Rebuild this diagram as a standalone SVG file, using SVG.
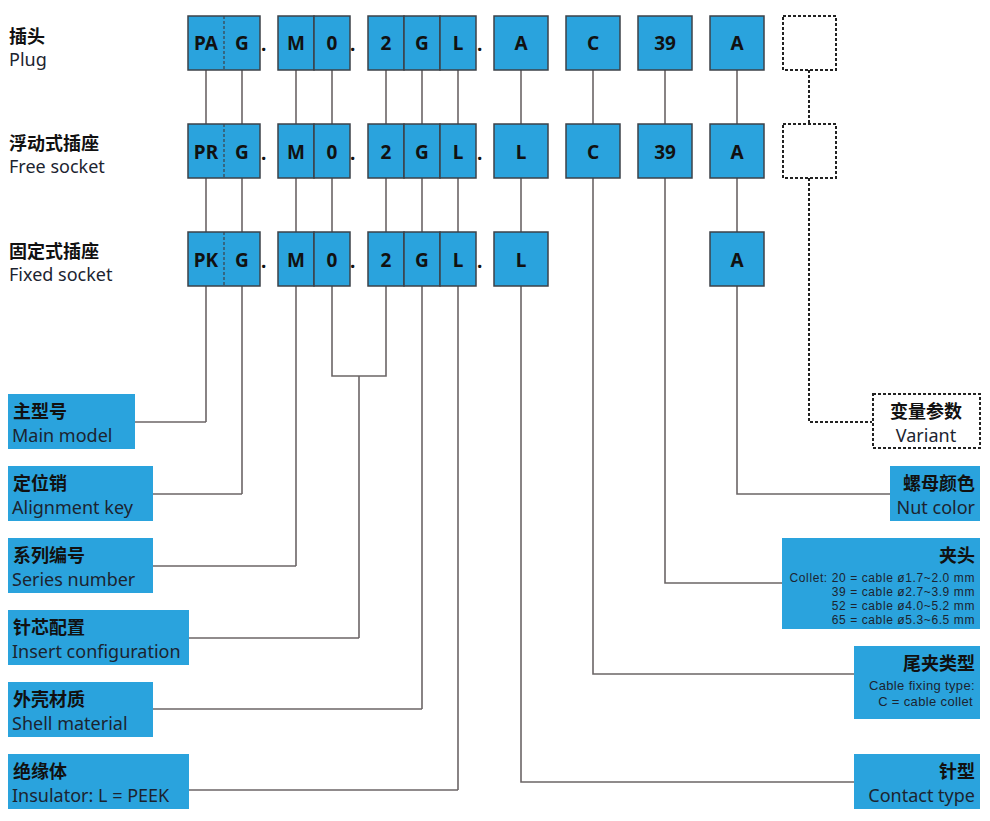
<svg xmlns="http://www.w3.org/2000/svg" width="990" height="821" viewBox="0 0 990 821">
<style>
.cell{fill:#2aa3dd;stroke:#3d4248;stroke-width:1.5}
.lab{fill:#2aa3dd}
.dash{fill:#fff;stroke:#222;stroke-width:2;stroke-dasharray:3 2}
.ln{fill:none;stroke:#6b6566;stroke-width:1.6}
.dl{fill:none;stroke:#222;stroke-width:2;stroke-dasharray:3 2}
.ct{font-family:"Noto Sans","Open Sans",sans-serif;font-weight:bold;font-size:19px;fill:#111;text-anchor:middle}
.dot{font-family:"Noto Sans",sans-serif;font-weight:bold;font-size:19px;fill:#111}
.zh{font-family:"Noto Sans CJK SC","Noto Sans",sans-serif;font-weight:bold;font-size:18px;fill:#111}
.en{font-family:"Noto Sans","Open Sans",sans-serif;font-size:18px;fill:#1c2430}
.sm{font-family:"Liberation Sans",Arial,sans-serif;font-size:13px;letter-spacing:0.35px;fill:#1c2430;text-anchor:end}
.xs{font-family:"Liberation Sans",Arial,sans-serif;font-size:12px;letter-spacing:0.6px;fill:#1c2430;text-anchor:end}
.r{text-anchor:end}
.m{text-anchor:middle}
</style>
<g id="connectors">
<line class="ln" x1="206" y1="70" x2="206" y2="422"/>
<line class="ln" x1="135" y1="422" x2="206" y2="422"/>
<line class="ln" x1="242" y1="70" x2="242" y2="494"/>
<line class="ln" x1="153" y1="494" x2="242" y2="494"/>
<line class="ln" x1="296" y1="70" x2="296" y2="566"/>
<line class="ln" x1="153" y1="566" x2="296" y2="566"/>
<polyline class="ln" points="332,70 332,376 386,376 386,70"/>
<line class="ln" x1="359" y1="376" x2="359" y2="638"/>
<line class="ln" x1="189" y1="638" x2="359" y2="638"/>
<line class="ln" x1="422" y1="70" x2="422" y2="709"/>
<line class="ln" x1="153" y1="709" x2="422" y2="709"/>
<line class="ln" x1="458" y1="70" x2="458" y2="790"/>
<line class="ln" x1="189" y1="790" x2="458" y2="790"/>
<polyline class="ln" points="521,70 521,782 854,782"/>
<polyline class="ln" points="593,70 593,674 854,674"/>
<polyline class="ln" points="665,70 665,583 782,583"/>
<polyline class="ln" points="737,70 737,494 890,494"/>
<line class="dl" x1="809" y1="70" x2="809" y2="124"/>
<polyline class="dl" points="809,178 809,422 872,422"/>
</g>
<g id="row-titles">
<text class="zh" x="9" y="43">插头</text>
<text class="en" x="9" y="66">Plug</text>
<text class="zh" x="9" y="150">浮动式插座</text>
<text class="en" x="9" y="173">Free socket</text>
<text class="zh" x="9" y="258">固定式插座</text>
<text class="en" x="9" y="281">Fixed socket</text>
</g>
<g id="row1">
<rect class="cell" x="188" y="16" width="72" height="54"/><line x1="224" y1="16" x2="224" y2="70" stroke="#3d4248" stroke-width="1.2" stroke-dasharray="3 2"/>
<text class="ct" x="206" y="50">PA</text><text class="ct" x="242" y="50">G</text><text class="dot" x="261" y="51">.</text>
<rect class="cell" x="278" y="16" width="36" height="54"/><rect class="cell" x="314" y="16" width="36" height="54"/>
<text class="ct" x="296" y="50">M</text><text class="ct" x="332" y="50">0</text><text class="dot" x="350" y="51">.</text>
<rect class="cell" x="368" y="16" width="36" height="54"/><rect class="cell" x="404" y="16" width="36" height="54"/><rect class="cell" x="440" y="16" width="36" height="54"/>
<text class="ct" x="386" y="50">2</text><text class="ct" x="422" y="50">G</text><text class="ct" x="458" y="50">L</text><text class="dot" x="477" y="51">.</text>
<rect class="cell" x="494" y="16" width="54" height="54"/><text class="ct" x="521" y="50">A</text>
<rect class="cell" x="566" y="16" width="54" height="54"/><text class="ct" x="593" y="50">C</text>
<rect class="cell" x="638" y="16" width="54" height="54"/><text class="ct" x="665" y="50">39</text>
<rect class="cell" x="710" y="16" width="54" height="54"/><text class="ct" x="737" y="50">A</text>
<rect class="dash" x="783" y="16" width="53" height="54"/>
</g>
<g id="row2">
<rect class="cell" x="188" y="124" width="72" height="54"/><line x1="224" y1="124" x2="224" y2="178" stroke="#3d4248" stroke-width="1.2" stroke-dasharray="3 2"/>
<text class="ct" x="206" y="159">PR</text><text class="ct" x="242" y="159">G</text><text class="dot" x="261" y="160">.</text>
<rect class="cell" x="278" y="124" width="36" height="54"/><rect class="cell" x="314" y="124" width="36" height="54"/>
<text class="ct" x="296" y="159">M</text><text class="ct" x="332" y="159">0</text><text class="dot" x="350" y="160">.</text>
<rect class="cell" x="368" y="124" width="36" height="54"/><rect class="cell" x="404" y="124" width="36" height="54"/><rect class="cell" x="440" y="124" width="36" height="54"/>
<text class="ct" x="386" y="159">2</text><text class="ct" x="422" y="159">G</text><text class="ct" x="458" y="159">L</text><text class="dot" x="477" y="160">.</text>
<rect class="cell" x="494" y="124" width="54" height="54"/><text class="ct" x="521" y="159">L</text>
<rect class="cell" x="566" y="124" width="54" height="54"/><text class="ct" x="593" y="159">C</text>
<rect class="cell" x="638" y="124" width="54" height="54"/><text class="ct" x="665" y="159">39</text>
<rect class="cell" x="710" y="124" width="54" height="54"/><text class="ct" x="737" y="159">A</text>
<rect class="dash" x="783" y="124" width="53" height="54"/>
</g>
<g id="row3">
<rect class="cell" x="188" y="232" width="72" height="54"/><line x1="224" y1="232" x2="224" y2="286" stroke="#3d4248" stroke-width="1.2" stroke-dasharray="3 2"/>
<text class="ct" x="206" y="267">PK</text><text class="ct" x="242" y="267">G</text><text class="dot" x="261" y="268">.</text>
<rect class="cell" x="278" y="232" width="36" height="54"/><rect class="cell" x="314" y="232" width="36" height="54"/>
<text class="ct" x="296" y="267">M</text><text class="ct" x="332" y="267">0</text><text class="dot" x="350" y="268">.</text>
<rect class="cell" x="368" y="232" width="36" height="54"/><rect class="cell" x="404" y="232" width="36" height="54"/><rect class="cell" x="440" y="232" width="36" height="54"/>
<text class="ct" x="386" y="267">2</text><text class="ct" x="422" y="267">G</text><text class="ct" x="458" y="267">L</text><text class="dot" x="477" y="268">.</text>
<rect class="cell" x="494" y="232" width="54" height="54"/><text class="ct" x="521" y="267">L</text>
<rect class="cell" x="710" y="232" width="54" height="54"/><text class="ct" x="737" y="267">A</text>
</g>
<g id="main-model"><rect class="lab" x="8" y="394" width="127" height="55"/><text class="zh" x="13" y="418">主型号</text><text class="en" x="12" y="442">Main model</text></g>
<g id="alignment-key"><rect class="lab" x="8" y="466" width="145" height="55"/><text class="zh" x="13" y="490">定位销</text><text class="en" x="12" y="514">Alignment key</text></g>
<g id="series-number"><rect class="lab" x="8" y="538" width="145" height="55"/><text class="zh" x="13" y="562">系列编号</text><text class="en" x="12" y="586">Series number</text></g>
<g id="insert-configuration"><rect class="lab" x="8" y="610" width="181" height="55"/><text class="zh" x="13" y="634">针芯配置</text><text class="en" x="12" y="658">Insert configuration</text></g>
<g id="shell-material"><rect class="lab" x="8" y="682" width="145" height="55"/><text class="zh" x="13" y="706">外壳材质</text><text class="en" x="12" y="730">Shell material</text></g>
<g id="insulator"><rect class="lab" x="8" y="754" width="181" height="55"/><text class="zh" x="13" y="778">绝缘体</text><text class="en" x="12" y="802">Insulator: L = PEEK</text></g>
<g id="variant"><rect class="dash" x="873" y="394" width="107" height="54"/><text class="zh m" x="926" y="418">变量参数</text><text class="en m" x="926" y="442">Variant</text></g>
<g id="nut-color"><rect class="lab" x="890" y="466" width="90" height="55"/><text class="zh r" x="975" y="490">螺母颜色</text><text class="en r" x="975" y="514">Nut color</text></g>
<g id="collet"><rect class="lab" x="782" y="538" width="198" height="91"/><text class="zh r" x="975" y="562">夹头</text>
<text class="xs" x="975" y="582">Collet: 20 = cable ø1.7~2.0 mm</text>
<text class="xs" x="975" y="596">39 = cable ø2.7~3.9 mm</text>
<text class="xs" x="975" y="610">52 = cable ø4.0~5.2 mm</text>
<text class="xs" x="975" y="624">65 = cable ø5.3~6.5 mm</text></g>
<g id="cable-fixing"><rect class="lab" x="854" y="646" width="126" height="73"/><text class="zh r" x="975" y="670">尾夹类型</text>
<text class="sm" x="975" y="690">Cable fixing type:</text>
<text class="sm" x="973" y="706">C = cable collet</text></g>
<g id="contact-type"><rect class="lab" x="854" y="754" width="126" height="55"/><text class="zh r" x="975" y="778">针型</text><text class="en r" x="975" y="802">Contact type</text></g>
</svg>
